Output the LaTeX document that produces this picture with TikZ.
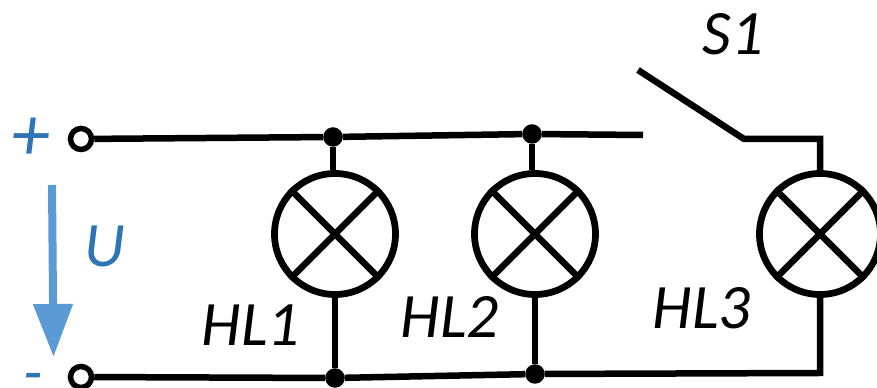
\documentclass[tikz,border=0pt]{standalone}
\usepackage{fontspec}
\setmainfont{Carlito}
\usepackage{xcolor}
\usepackage{tikz}
\usetikzlibrary{arrows.meta,positioning}
\definecolor{voltblue}{RGB}{91,155,213}
\definecolor{textblue}{RGB}{46,117,182}
\tikzset{
  wire/.style={line width=1.3mm},
  lamp/.style={circle, draw, line width=1.35mm, minimum size=24.2mm, inner sep=0pt},
  terminal/.style={circle, draw, fill=white, line width=1.1mm, minimum size=4.2mm, inner sep=0pt},
  junction/.style={circle, fill=black, minimum size=3.9mm, inner sep=0pt, outer sep=0pt},
  reflabel/.style={font=\fontsize{36}{36}\selectfont\itshape},
  bluelabel/.style={font=\fontsize{36}{36}\selectfont\itshape, text=textblue},
}
\begin{document}
\begin{tikzpicture}[x=0.2mm, y=-0.2mm]
\useasboundingbox (0,0) rectangle (877,388);

% lamps
\node[lamp] (lamp1) at (335,234) {};
\node[lamp] (lamp2) at (535,234) {};
\node[lamp] (lamp3) at (820,234) {};
\foreach \n in {lamp1,lamp2,lamp3} {
\draw[wire] (\n.45) -- (\n.225);
\draw[wire] (\n.135) -- (\n.315); }

% terminals and junctions
\coordinate (topend) at (643,135);
\coordinate (swfree) at (638,70);
\coordinate (swpivot) at (744,139);
\coordinate (corner) at (820,139);
\coordinate (botcorner) at (820,373);
\node[junction] (topa) at (333,137) {};
\node[junction] (topb) at (532,134) {};
\node[junction] (bota) at (335,378) {};
\node[junction] (botb) at (535,374) {};
\node[terminal] (plus) at (81,139) {};
\node[terminal] (minus) at (81,377) {};

% wires
\draw[wire] (plus) -- (topa) -- (topb) -- (topend);
\draw[wire] (minus) -- (bota) -- (botb) -- (botcorner) -- (lamp3);
\draw[wire] (topa) -- (topa |- lamp1.north);
\draw[wire] (topb) -- (topb |- lamp2.north);
\draw[wire] (lamp1) -- (bota);
\draw[wire] (lamp2) -- (botb);
\draw[wire] (swfree) -- (swpivot) -- (corner) -- (lamp3);

% voltage arrow
\coordinate (ufrom) at (52,185);
\coordinate (uto) at (53.5,357);
\draw[voltblue, line width=1.6mm, -{Triangle[length=10.6mm, width=7.6mm]}] (ufrom) -- (uto);

% labels
\node[reflabel] (s1) at (733,34) {S1};
\node[reflabel] (hl1) at (251,325) {HL1};
\node[reflabel] (hl2) at (450,317) {HL2};
\node[reflabel] (hl3) at (702,308) {HL3};
\node[bluelabel] (u) at (105,246) {U};
\node[bluelabel, font=\fontsize{44}{44}\selectfont\itshape] (plussign) at (31,139) {+};
\node[bluelabel] (minussign) at (33,383) {-};
\end{tikzpicture}
\end{document}
